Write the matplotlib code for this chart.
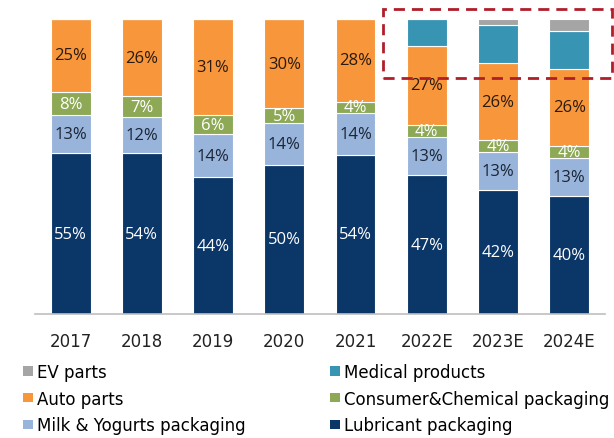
import numpy as np
import matplotlib
matplotlib.use("Agg")
import matplotlib.pyplot as plt
from matplotlib.patches import Rectangle, Patch

years = ["2017", "2018", "2019", "2020", "2021", "2022E", "2023E", "2024E"]
lubricant = [55, 54, 44, 50, 54, 47, 42, 40]
milk_yogurt = [13, 12, 14, 14, 14, 13, 13, 13]
consumer_chem = [8, 7, 6, 5, 4, 4, 4, 4]
auto_parts = [25, 26, 31, 30, 28, 27, 26, 26]
medical = [0, 0, 0, 0, 0, 9, 13, 13]
ev_parts = [0, 0, 0, 0, 0, 0, 2, 4]

series = [
    ("Lubricant packaging", lubricant, "#0B3668", "white"),
    ("Milk & Yogurts packaging", milk_yogurt, "#98B4DA", "#1a2535"),
    ("Consumer&Chemical packaging", consumer_chem, "#8DA955", "white"),
    ("Auto parts", auto_parts, "#F7963A", "#2a1a10"),
    ("Medical products", medical, "#3894B3", None),
    ("EV parts", ev_parts, "#A5A5A5", None),
]

vals = np.array([s[1] for s in series], dtype=float)
totals = vals.sum(axis=0)
shares = vals / totals * 100  # each bar stacked to 100%

fig = plt.figure(figsize=(6.14, 4.39), dpi=100)
ax = fig.add_axes([0.057, 0.2825, 0.928, 0.672])
x = np.arange(len(years))
bottom = np.zeros(len(years))
for (name, v, color, tcolor), sh, raw in zip(series, shares, vals):
    ax.bar(x, sh, 0.56, bottom=bottom, color=color,
           edgecolor="white", linewidth=0.8, label=name)
    if tcolor is not None:
        for xi, b, h, r in zip(x, bottom, sh, raw):
            if r > 0:
                ax.text(xi, b + h / 2, f"{int(r)}%", ha="center", va="center",
                        color=tcolor, fontsize=12, family="Open Sans")
    bottom += sh

ax.set_xlim(-0.5, 7.5)
ax.set_ylim(0, 100)
ax.set_yticks([])
for s in ["left", "right", "top"]:
    ax.spines[s].set_visible(False)
ax.spines["bottom"].set_color("#BFBFBF")
ax.spines["bottom"].set_linewidth(1.2)
ax.set_xticks(x)
ax.set_xticklabels(years, fontsize=12, color="#222222")
ax.tick_params(axis="x", length=0, pad=13)

# dashed highlight around the new segments
box = Rectangle((383 / 614, (439 - 79) / 439), (612 - 383) / 614, (79 - 10) / 439,
                transform=fig.transFigure, fill=False, edgecolor="#B01E2A",
                linewidth=2, linestyle=(0, (4, 2.5)), clip_on=False)
fig.patches.append(box)

colors = {s[0]: s[2] for s in series}
legend_cols = [
    (["EV parts", "Auto parts", "Milk & Yogurts packaging"], 23 / 614),
    (["Medical products", "Consumer&Chemical packaging", "Lubricant packaging"], 330 / 614),
]
for names, x0 in legend_cols:
    handles = [Patch(facecolor=colors[n], edgecolor="none") for n in names]
    fig.legend(handles, names, loc="upper left", bbox_to_anchor=(x0, 0.171),
               ncol=1, frameon=False, fontsize=12, handlelength=0.6,
               handleheight=0.5, handletextpad=0.25, labelspacing=0.52,
               borderaxespad=0, borderpad=0)

fig.savefig("out.png", dpi=100)
